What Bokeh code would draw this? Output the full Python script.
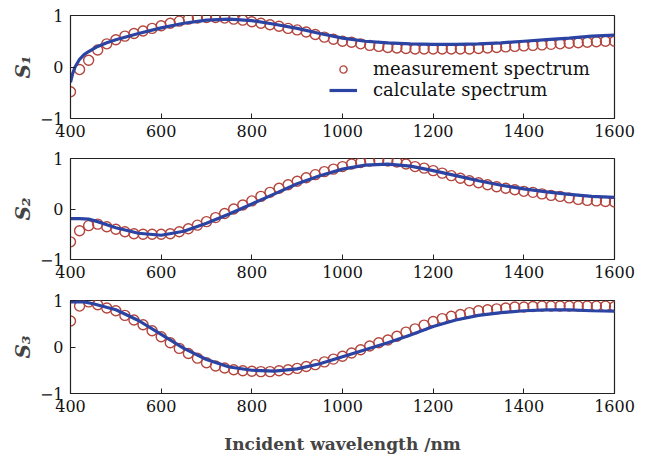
from bokeh.plotting import figure
from bokeh.layouts import column
from bokeh.models import Range1d, FixedTicker, Legend, LegendItem
from bokeh.embed import file_html
from bokeh.resources import INLINE

wl_meas = list(range(400, 1601, 20))

s1_meas = [-0.48, -0.05, 0.13, 0.33, 0.45, 0.53, 0.6, 0.65, 0.7, 0.75, 0.8, 0.85, 0.89, 0.93, 0.95,
           0.96, 0.96, 0.95, 0.93, 0.91, 0.88, 0.85, 0.82, 0.79, 0.75, 0.72, 0.68, 0.63, 0.58, 0.54,
           0.5, 0.48, 0.45, 0.42, 0.4, 0.38, 0.37, 0.36, 0.35, 0.35, 0.35, 0.35, 0.35, 0.35, 0.35,
           0.36, 0.37, 0.38, 0.39, 0.4, 0.41, 0.42, 0.43, 0.44, 0.45, 0.46, 0.47, 0.48, 0.49, 0.5, 0.5]
s2_meas = [-0.65, -0.43, -0.33, -0.30, -0.35, -0.40, -0.45, -0.49, -0.50, -0.50, -0.50, -0.49, -0.45,
           -0.39, -0.32, -0.25, -0.17, -0.09, 0.0, 0.08, 0.16, 0.25, 0.33, 0.41, 0.48, 0.55, 0.62, 0.68,
           0.74, 0.79, 0.84, 0.89, 0.92, 0.95, 0.97, 0.95, 0.93, 0.89, 0.84, 0.81, 0.76, 0.71, 0.66,
           0.61, 0.56, 0.52, 0.48, 0.44, 0.41, 0.38, 0.35, 0.33, 0.30, 0.27, 0.25, 0.22, 0.19, 0.17,
           0.16, 0.15, 0.14]
s3_meas = [0.56, 0.88, 0.97, 0.91, 0.84, 0.78, 0.68, 0.58, 0.48, 0.35, 0.22, 0.09, -0.03, -0.14, -0.24,
           -0.34, -0.41, -0.45, -0.49, -0.51, -0.52, -0.53, -0.53, -0.51, -0.49, -0.46, -0.42, -0.38,
           -0.32, -0.26, -0.2, -0.13, -0.06, 0.02, 0.09, 0.15, 0.23, 0.32, 0.39, 0.47, 0.55, 0.61, 0.66,
           0.70, 0.74, 0.78, 0.80, 0.82, 0.84, 0.86, 0.86, 0.87, 0.88, 0.88, 0.88, 0.88, 0.88, 0.88,
           0.88, 0.88, 0.87]

wl_c1 = [400, 405, 410, 420, 430, 440, 460, 480, 500, 550, 600, 650, 700, 750, 800, 850, 900, 950,
         1000, 1050, 1100, 1150, 1200, 1250, 1300, 1350, 1400, 1450, 1500, 1550, 1600]
s1_calc = [-0.3, -0.12, 0.0, 0.15, 0.24, 0.3, 0.4, 0.47, 0.53, 0.65, 0.76, 0.85, 0.91, 0.93, 0.9,
           0.83, 0.75, 0.65, 0.56, 0.5, 0.47, 0.45, 0.44, 0.44, 0.45, 0.47, 0.5, 0.53, 0.56, 0.6, 0.62]
wl_c2 = [400, 420, 440, 460, 480, 500, 550, 600, 650, 700, 750, 800, 850, 900, 950, 1000, 1050,
         1100, 1150, 1200, 1250, 1300, 1350, 1400, 1450, 1500, 1550, 1600]
s2_calc = [-0.19, -0.19, -0.2, -0.25, -0.31, -0.37, -0.48, -0.52, -0.44, -0.28, -0.1, 0.1, 0.3, 0.5,
           0.66, 0.79, 0.87, 0.89, 0.85, 0.76, 0.66, 0.56, 0.47, 0.4, 0.34, 0.29, 0.25, 0.23]
wl_c3 = [400, 430, 450, 500, 550, 600, 650, 700, 750, 800, 850, 900, 950, 1000, 1050, 1100, 1150,
         1200, 1250, 1300, 1350, 1400, 1450, 1500, 1550, 1600]
s3_calc = [0.97, 0.97, 0.93, 0.8, 0.57, 0.27, -0.03, -0.27, -0.43, -0.5, -0.52, -0.47, -0.36, -0.21,
           -0.06, 0.09, 0.26, 0.44, 0.58, 0.68, 0.74, 0.78, 0.8, 0.8, 0.78, 0.77]

x_ticks = [400, 600, 800, 1000, 1200, 1400, 1600]
y_ticks = [-1, 0, 1]
y_labels = ["S\u2081", "S\u2082", "S\u2083"]
legend_labels = ["measurement spectrum", "calculate spectrum"]

FONT = "DejaVu Serif"
RED = "#b3453d"
BLUE = "#2b44a3"


def make_panel(wm, sm, wc, sc, ylab, height, top, bottom, xlabel=None):
    p = figure(width=639, height=height, output_backend="svg", toolbar_location=None,
               x_range=Range1d(400, 1600), y_range=Range1d(-1, 1),
               min_border_left=70, min_border_right=25, min_border_top=top, min_border_bottom=bottom)
    p.xgrid.visible = False
    p.ygrid.visible = False
    p.outline_line_color = "#222222"
    p.outline_line_width = 1.2
    p.background_fill_color = "white"
    p.border_fill_color = "white"
    for ax in (p.xaxis[0], p.yaxis[0]):
        ax.major_tick_in = 5
        ax.major_tick_out = 0
        ax.minor_tick_line_color = None
        ax.axis_line_color = "#222222"
        ax.major_tick_line_color = "#222222"
        ax.major_label_text_font = FONT
        ax.major_label_text_font_size = "16px"
        ax.major_label_text_color = "#111111"
    p.xaxis.ticker = FixedTicker(ticks=x_ticks)
    p.yaxis.ticker = FixedTicker(ticks=y_ticks)
    p.yaxis.major_label_overrides = {-1: "\u22121"}
    p.xaxis.major_label_standoff = 6
    p.yaxis.major_label_standoff = 7
    p.yaxis.axis_label = ylab
    p.yaxis.axis_label_text_font = FONT
    p.yaxis.axis_label_text_font_style = "bold italic"
    p.yaxis.axis_label_text_font_size = "20px"
    p.yaxis.axis_label_standoff = 2
    if xlabel:
        p.xaxis.axis_label = xlabel
        p.xaxis.axis_label_text_font = FONT
        p.xaxis.axis_label_text_font_style = "bold"
        p.xaxis.axis_label_text_font_size = "17px"
        p.xaxis.axis_label_standoff = 19
    r1 = p.scatter(wm, sm, marker="circle", size=10, fill_color=None, line_color=RED, line_width=1.4)
    r2 = p.line(wc, sc, line_color=BLUE, line_width=3.2)
    return p, r1, r2


p1, a1, b1 = make_panel(wl_meas, s1_meas, wl_c1, s1_calc, y_labels[0], 150, 15, 32)
p2, _, _ = make_panel(wl_meas, s2_meas, wl_c2, s2_calc, y_labels[1], 142, 8, 33)
p3, _, _ = make_panel(wl_meas, s3_meas, wl_c3, s3_calc, y_labels[2], 164, 8, 57,
                      xlabel="Incident wavelength /nm")


def make_legend(item, loc):
    lg = Legend(items=[item], location=loc, orientation="vertical")
    lg.background_fill_alpha = 0
    lg.border_line_color = None
    lg.label_text_font = FONT
    lg.label_text_font_size = "18px"
    lg.label_text_color = "#111111"
    lg.glyph_width = 28
    lg.label_standoff = 16
    lg.padding = 2
    lg.margin = 0
    lg.label_height = 18
    lg.glyph_height = 18
    return lg


p1.add_layout(make_legend(LegendItem(label=legend_labels[0], renderers=[a1]), (259, 39)), "center")
p1.add_layout(make_legend(LegendItem(label=legend_labels[1], renderers=[b1]), (259, 18)), "center")

layout = column(p1, p2, p3, spacing=0)
open("out.html", "w").write(file_html(layout, INLINE))
